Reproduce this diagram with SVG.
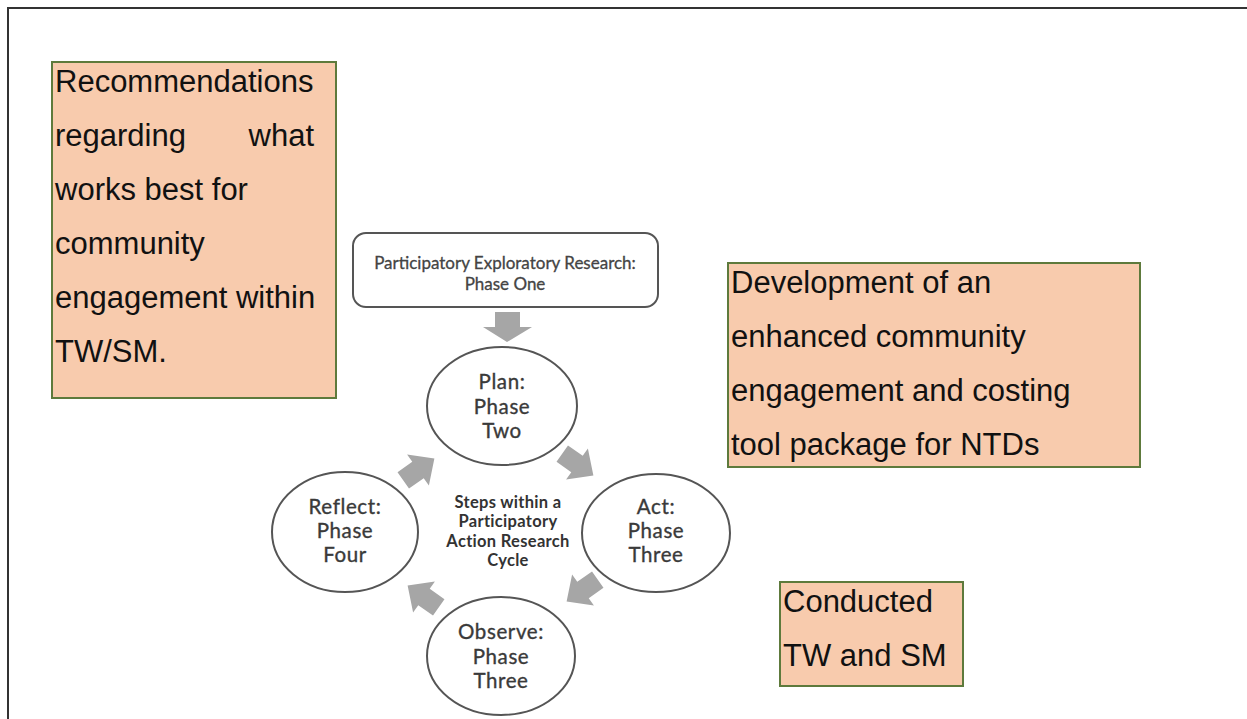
<svg xmlns="http://www.w3.org/2000/svg" width="1247" height="719" viewBox="0 0 1247 719">
<style>
.box{fill:#f8cbad;stroke:#5e7a3c;stroke-width:2}
.bt{font-family:"Liberation Sans",Arial,sans-serif;font-size:31px;fill:#111}
.ell{fill:#fff;stroke:#555;stroke-width:2}
.et{font-family:Lato,"Open Sans",sans-serif;font-size:20.5px;letter-spacing:0.6px;fill:#3a3a3a;stroke:#3a3a3a;stroke-width:0.35;text-anchor:middle}
.ct{font-family:Lato,"Open Sans",sans-serif;font-size:16.5px;letter-spacing:0.3px;font-weight:bold;fill:#333;text-anchor:middle}
.tt{font-family:Lato,"Open Sans",sans-serif;font-size:17px;fill:#444;stroke:#444;stroke-width:0.3;text-anchor:middle}
.arr{fill:#a6a6a6}
</style>
<defs>
<path id="blk" d="M-18,-10 L0,-10 L0,-19 L20,0 L0,19 L0,10 L-18,10 Z"/>
</defs>
<rect width="1247" height="719" fill="#fff"/>
<rect x="8" y="8" width="1260" height="740" fill="none" stroke="#333" stroke-width="2"/>

<g id="recommendations">
<rect class="box" x="52" y="62" width="284" height="336"/>
<text class="bt" x="55" y="92">Recommendations</text>
<text class="bt" x="55" y="146">regarding</text>
<text class="bt" x="314" y="146" text-anchor="end">what</text>
<text class="bt" x="55" y="200">works best for</text>
<text class="bt" x="55" y="254">community</text>
<text class="bt" x="55" y="308">engagement within</text>
<text class="bt" x="55" y="362">TW/SM.</text>
</g>

<g id="development">
<rect class="box" x="728" y="263" width="412" height="204"/>
<text class="bt" x="731" y="293">Development of an</text>
<text class="bt" x="731" y="347">enhanced community</text>
<text class="bt" x="731" y="401">engagement and costing</text>
<text class="bt" x="731" y="455">tool package for NTDs</text>
</g>

<g id="conducted">
<rect class="box" x="780" y="582" width="183" height="104"/>
<text class="bt" x="783" y="612">Conducted</text>
<text class="bt" x="783" y="666">TW and SM</text>
</g>

<g id="phase-one">
<rect x="353" y="233" width="305" height="74" rx="13" fill="#fff" stroke="#555" stroke-width="2"/>
<text class="tt" x="505" y="269">Participatory Exploratory Research:</text>
<text class="tt" x="505" y="290">Phase One</text>
</g>

<g id="plan">
<ellipse class="ell" cx="502" cy="406" rx="75" ry="59"/>
<text class="et" x="502" y="389">Plan:</text>
<text class="et" x="502" y="414">Phase</text>
<text class="et" x="502" y="438">Two</text>
</g>

<g id="act">
<ellipse class="ell" cx="656" cy="533" rx="74" ry="59"/>
<text class="et" x="656" y="514">Act:</text>
<text class="et" x="656" y="538">Phase</text>
<text class="et" x="656" y="562">Three</text>
</g>

<g id="observe">
<ellipse class="ell" cx="501" cy="656" rx="74" ry="59"/>
<text class="et" x="501" y="639">Observe:</text>
<text class="et" x="501" y="664">Phase</text>
<text class="et" x="501" y="688">Three</text>
</g>

<g id="reflect">
<ellipse class="ell" cx="345" cy="532" rx="73" ry="60"/>
<text class="et" x="345" y="514">Reflect:</text>
<text class="et" x="345" y="538">Phase</text>
<text class="et" x="345" y="562">Four</text>
</g>

<g id="cycle-label">
<text class="ct" x="508" y="508">Steps within a</text>
<text class="ct" x="508" y="527">Participatory</text>
<text class="ct" x="508" y="547">Action Research</text>
<text class="ct" x="508" y="566">Cycle</text>
</g>

<g id="connectors">
<path class="arr" d="M495,312 L520,312 L520,327 L532,327 L507,342 L483,327 L495,327 Z"/>
<use href="#blk" class="arr" transform="translate(418,470) rotate(-35)"/>
<use href="#blk" class="arr" transform="translate(577,464) rotate(35)"/>
<use href="#blk" class="arr" transform="translate(583,590) rotate(145)"/>
<use href="#blk" class="arr" transform="translate(424,597) rotate(-145)"/>
</g>
</svg>
